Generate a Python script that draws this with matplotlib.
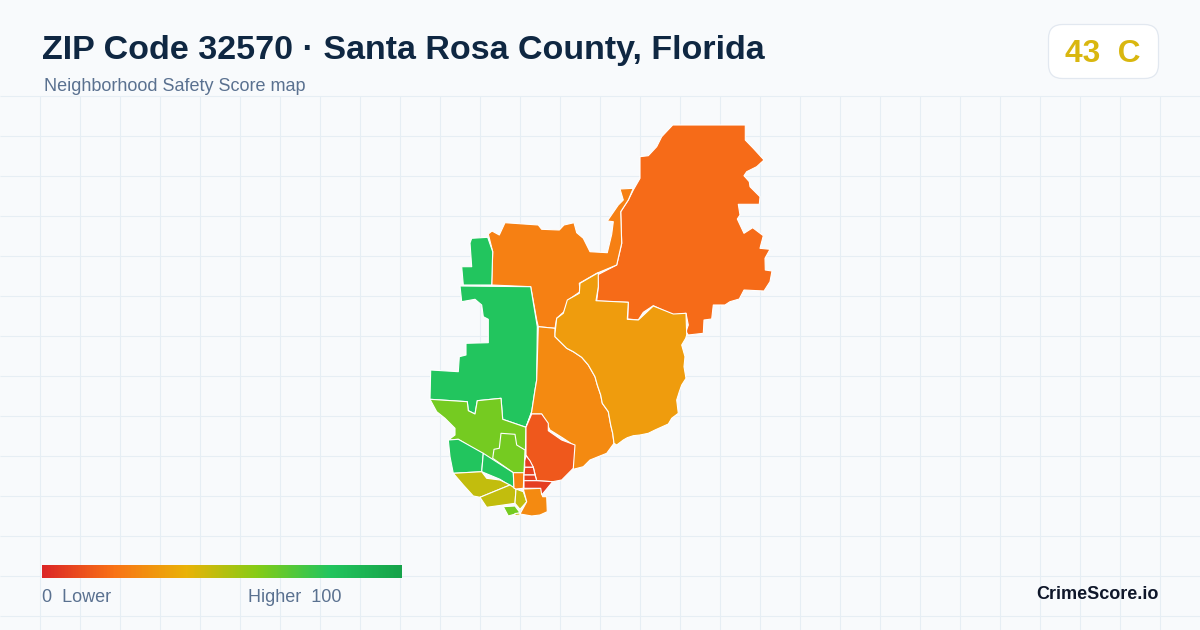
import numpy as np
import matplotlib.pyplot as plt
from matplotlib.colors import LinearSegmentedColormap
from matplotlib.patches import FancyBboxPatch

plt.rcParams['font.family'] = ['Liberation Sans', 'DejaVu Sans']

# ====== map data (x, y in image pixels) ======
# river between the two amber zones, used by both
river_edge = [(555,336.7),(566.7,348.3),(573.3,351.7),(581.7,357.3),(588.3,365),(595,376.7),(597.3,385),(600.7,395),
    (602.3,403.3),(608.3,411.7),(610.7,425),(612.7,433.3),(614,443.3)]

zone_north = [(672.7,125),(745.3,125),(745.3,140),(753.3,148.3),(764,160),(756.7,166.7),(746.7,171.7),(744,175.7),
    (749.3,181.7),(750,186.7),(760,196.7),(759.3,204.3),(738.3,204.3),(740,215),(737.3,219),(744,233.3),
    (752.7,227.7),(763.3,235.7),(760,248.3),(770,249.3),(765,258.3),(765.3,270),(772,271),(770,281.7),
    (764,291),(744,290),(739.3,299),(730,301.7),(725,305),(713.3,305),(711.7,319),(704,320),(703.3,333.3),
    (688.3,335),(686,331.7),(688.3,325),(686,313.3),(673.3,315),(653.3,305.7),(643.3,312.3),(638.3,320),
    (627.7,319),(628.3,302.3),(596.7,301),(598.3,286.7),(597.3,275),(616.7,265),(621.7,243.3),(620.7,211.7),
    (628.3,200),(633.3,190),(640,178.3),(640,156.7),(648.3,155.7),(656.7,146.7),(661.7,136.7)]
zone_mid_north = [(488.3,234),(492,231),(499.3,235),(505,222.7),(538.3,225),(541.7,229.3),(559.3,230),(564,225),
    (574,222.7),(576.7,232.7),(583.3,238.3),(590,251.7),(607.3,252.7),(611.7,234.3),(613.3,221.7),(607.3,221),
    (618.3,205),(623.3,200),(620,189),(633.3,188.3),(628.3,200),(620.7,211.7),(621.7,243.3),(616.7,265),
    (596.7,273.3),(579.3,283.3),(580,291.7),(568.3,300),(564,311.7),(556.7,318.3),(555,328.3),(538.3,326.7),
    (536.7,320),(530.7,286.7),(491.7,285),(492.7,251.7)]
zone_nw_top = [(471.7,238.3),(487.7,237.3),(492.7,251.7),(491.7,285),(463.3,285),(461.7,266.7),(471.7,266.7),(470,243)]
zone_nw = [(460,286),(530.7,286.7),(537.3,326.7),(536.7,380),(535,390),(531.7,411.7),(526,427.3),(502.7,419.3),
    (501,398.3),(477.3,400.7),(475,414),(468.3,410.7),(467.3,401.7),(430,399.3),(430.7,370),(458.3,371.7),
    (459.3,356.7),(466,355),(466,343.3),(488.3,342.7),(488.3,319.3),(483.3,316.7),(481.7,305),(475,299.3),
    (461.7,301.7)]
zone_center = [(538.3,326.7),(555,328.3)] + river_edge + [(606.7,453.3),(590,460),(583.3,466.7),(573.3,469.3),(573.3,445),
    (563.3,438.3),(550,430),(541.7,414),(531.7,414),(526,427.3),(531.7,411.7),(535,390),(536.7,380)]
zone_east = [(598.3,272.7),(580,283.3),(579.3,293.3),(567.3,300),(563.3,313.3),(556.7,318.3),(555,333.3)] + river_edge + [
    (616.7,445),(623.3,440),(627.3,437.7),(633.3,435.7),(640,435),(648.3,433.3),(655,430),(668.3,424),(671.7,418.3),
    (678.3,413.3),(677.3,405),(676.7,400),(679.3,391.7),(681.7,385),(686,378.3),(684,366.7),(685,356.7),(681.7,345),
    (685.7,338.3),(686.7,335),(686,313.3),(673.3,314),(653.3,306),(638.3,320),(627.3,319.3),
    (628.3,302.3),(596,300.7),(598.3,286.7)]
zone_lime = [(430,399.3),(467.3,401.7),(468.3,410.7),(475,414),(477.3,400.7),(501,398.3),(502.7,419.3),(526,427.3),
    (525.3,455),(524,473.3),(513.3,472.7),(458.3,439.3),(448.3,440),(455,435),(455,428.3),(445,418.3),(436.7,411.7)]
zone_lime_inner = [(501,433.3),(515,434.3),(516.7,445),(525,450),(524,473.3),(513.3,472.7),(492.7,458.3),(494,449.3),(499.3,448.3)]
zone_sw_a = [(448.3,440),(458.3,439.3),(483.3,453.3),(481.7,471.7),(453.3,473.3),(450,456.7)]
zone_sw_b = [(483.3,453.3),(513.3,472.7),(514,488.3),(500,479.3),(481.7,471.7)]
zone_coast_a = [(453.3,473.3),(481.7,471.7),(486.7,478.3),(500,480),(510,485),(480,497.3),(473.3,496),(463.3,485)]
zone_coast_b = [(480,497.3),(510,485),(516,489),(515,503.3),(503.3,505),(486.7,507.3)]
zone_coast_c = [(516,489),(523.3,491.7),(526.7,501.7),(520,509.3),(515,503.3)]
zone_tip = [(503.3,506.7),(515,506),(520,512.7),(508.3,516)]
zone_tip_b = [(515,513.5),(520,513),(520,515),(515,515.5)]
zone_south_a = [(513.3,472.7),(524,472.7),(523.3,488.3),(516,489),(514,488.3)]
zone_south_b = [(523.3,489),(541.7,488.3),(542.7,496.7),(546.7,496.7),(547.3,511.7),(540,515),(531.7,516),(520,514),(526.7,501.7)]
zone_bay = [(526,427.3),(531.7,414),(541.7,414),(548.3,423.3),(548.3,430.7),(561.7,440),(575,445),(573.3,468.3),
    (561.7,480),(552.7,481.7),(536.7,480.7),(533.3,467.3),(526,455)]
zone_red_a = [(526,455.7),(530,460.7),(533.3,467.3),(524.7,467.3),(524.7,461)]
zone_red_b = [(524.7,467.3),(533.3,467.3),(535,475),(524,475)]
zone_red_c = [(524,475),(535,475),(536.7,480.7),(524,480.7)]
zone_red_d = [(524,480.7),(536.7,480.7),(552.7,481.7),(541.7,495),(540.7,488.3),(524,488.3)]

zones = [zone_north, zone_mid_north, zone_nw_top, zone_nw, zone_center, zone_east, zone_lime, zone_lime_inner,
         zone_sw_a, zone_sw_b, zone_coast_a, zone_coast_b, zone_coast_c, zone_tip, zone_tip_b, zone_south_a,
         zone_south_b, zone_bay, zone_red_a, zone_red_b, zone_red_c, zone_red_d]
scores = [18, 24, 80, 80, 27, 33, 63, 63,
          80, 80, 48, 48, 48, 63, 48, 25,
          27, 13, 6, 7, 7, 6]

legend_stops = [0, 20, 40, 60, 80, 100]
legend_colors = ['#dc2626', '#f97316', '#eab308', '#84cc16', '#22c55e', '#16a34a']

title = "ZIP Code 32570 · Santa Rosa County, Florida"
subtitle = "Neighborhood Safety Score map"
badge = "43  C"

# ====== figure ======
cmap = LinearSegmentedColormap.from_list('score', [(s / 100, c) for s, c in zip(legend_stops, legend_colors)])

fig = plt.figure(figsize=(12, 6.3), dpi=100, facecolor='#f8fafc')
ax = fig.add_axes([0, 0, 1, 1])
ax.set_xlim(0, 1200)
ax.set_ylim(630, 0)
ax.axis('off')

# background grid
ax.vlines(np.arange(40, 1200, 40), 96, 630, color='#e6eef4', lw=0.8, zorder=1)
ax.hlines(np.arange(96, 630, 40), 0, 1200, color='#e6eef4', lw=0.8, zorder=1)

for zone, score in zip(zones, scores):
    xs, ys = zip(*zone)
    ax.fill(xs, ys, facecolor=cmap(score / 100), edgecolor='white', lw=0.8, joinstyle='round', zorder=2)

# header
ax.text(42, 50, title, fontsize=24.45, fontweight='bold', color='#0f2742', va='center', ha='left')
ax.text(44, 86.5, subtitle, fontsize=12.95, color='#5a7190', va='center', ha='left')

box = FancyBboxPatch((1048.5, 24.5), 110, 54, boxstyle='round,pad=0,rounding_size=14',
                     facecolor='white', edgecolor='#e2e8f0', lw=0.9, zorder=3)
ax.add_patch(box)
ax.text(1102.5, 54, badge, fontsize=22.8, fontweight='bold', color='#d9b70f', va='center', ha='center', zorder=4)

# legend bar
ax.imshow(np.linspace(0, 1, 360).reshape(1, -1), cmap=cmap, extent=(42, 402, 578, 565), aspect='auto', zorder=3)
ax.set_xlim(0, 1200)
ax.set_ylim(630, 0)
ax.text(42, 598, "0  Lower", fontsize=12.95, color='#5a7190', va='center', ha='left')
ax.text(342, 598, "Higher  100", fontsize=12.95, color='#5a7190', va='center', ha='right')
ax.text(1158.5, 594.5, "CrimeScore.io", fontsize=13, fontweight='bold', color='#0f172a', va='center', ha='right')

fig.savefig('out.png', dpi=100, facecolor=fig.get_facecolor())
